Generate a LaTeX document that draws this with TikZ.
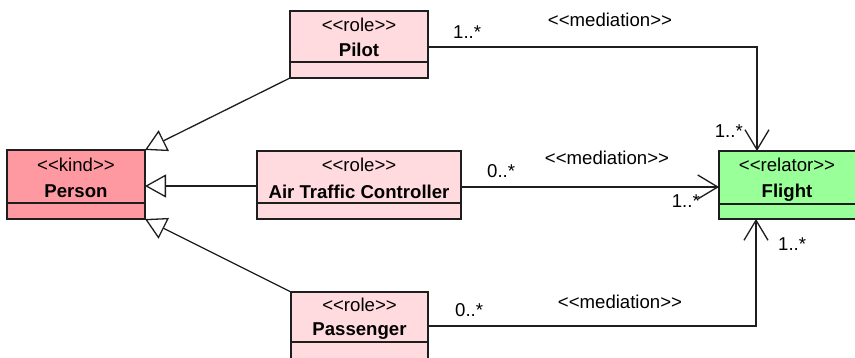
\documentclass[tikz,border=0pt]{standalone}
\usepackage{fontspec}
\setmainfont{Liberation Sans}[Ligatures=TeXOff]
\usetikzlibrary{arrows.meta}
\definecolor{personfill}{RGB}{255,153,161}
\definecolor{rolefill}{RGB}{255,218,222}
\definecolor{flightfill}{RGB}{153,255,153}
\definecolor{linecol}{RGB}{30,30,30}
\begin{document}
\begin{tikzpicture}[x=1pt,y=-1pt,
  cls/.style={draw=linecol, line width=1.4pt, rectangle, anchor=north west, inner sep=0pt, outer sep=0pt},
  divider/.style={draw=linecol, line width=1.4pt},
  txt/.style={font=\fontsize{18.6}{22}\selectfont, anchor=base, inner sep=0pt},
  bold/.style={txt, font=\fontsize{18.6}{22}\selectfont\bfseries},
  gen/.style={draw=linecol, line width=1.3pt, -{Triangle[open, length=21pt, width=23pt, fill=white]}},
  med/.style={draw=linecol, line width=1.3pt, -{Straight Barb[length=20pt, width=24pt]}},
]
\useasboundingbox[fill=white] (0,0) rectangle (855,358);

% classes
\node[cls, fill=personfill, minimum width=138pt, minimum height=69pt] (person) at (7,150) {};
\draw[divider] (person.west |- 0,203) -- (person.east |- 0,203);
\node[txt] (personst) at (76,171.5) {<<kind>>};
\node[bold] (personnm) at (76,198) {Person};

\node[cls, fill=rolefill, minimum width=138pt, minimum height=67pt] (pilot) at (290,11) {};
\draw[divider] (pilot.west |- 0,62) -- (pilot.east |- 0,62);
\node[txt] (pilotst) at (359,31.5) {<<role>>};
\node[bold] (pilotnm) at (359,56.5) {Pilot};

\node[cls, fill=rolefill, minimum width=204pt, minimum height=68pt] (atc) at (257,151) {};
\draw[divider] (atc.west |- 0,203) -- (atc.east |- 0,203);
\node[txt] (atcst) at (359,172) {<<role>>};
\node[bold] (atcnm) at (359,198.5) {Air Traffic Controller};

\node[cls, fill=rolefill, minimum width=137pt, minimum height=68pt] (passenger) at (291,292) {};
\draw[divider] (passenger.west |- 0,342) -- (passenger.east |- 0,342);
\node[txt] (passst) at (359.5,312) {<<role>>};
\node[bold] (passnm) at (359.5,336) {Passenger};

\node[cls, fill=flightfill, minimum width=138pt, minimum height=68pt] (flight) at (719,151) {};
\draw[divider] (flight.west |- 0,204) -- (flight.east |- 0,204);
\node[txt] (flightst) at (787,172) {<<relator>>};
\node[bold] (flightnm) at (787,198) {Flight};

% generalizations
\draw[gen] (pilot.south west) -- (person.north east);
\draw[gen] (atc.west |- 0,186) -- (person.east |- 0,186);
\draw[gen] (passenger.north west) -- (person.south east);

% mediations
\draw[med] (pilot.east |- 0,47) -| (flight.north -| 757,0);
\draw[med] (atc.east |- 0,187) -- (flight.west |- 0,187);
\draw[med] (passenger.east |- 0,326) -| (flight.south -| 756,0);

% labels
\node[txt, anchor=base west] (l1) at (453,39) {1..*};
\node[txt] (m1) at (610,27) {<<mediation>>};
\node[txt, anchor=base east] (l2) at (743,138) {1..*};
\node[txt, anchor=base west] (l3) at (487,178) {0..*};
\node[txt] (m2) at (607,165) {<<mediation>>};
\node[txt, anchor=base east] (l4) at (700,208) {1..*};
\node[txt, anchor=base west] (l5) at (455,317) {0..*};
\node[txt] (m3) at (620,309) {<<mediation>>};
\node[txt, anchor=base west] (l6) at (778,251) {1..*};
\end{tikzpicture}
\end{document}
